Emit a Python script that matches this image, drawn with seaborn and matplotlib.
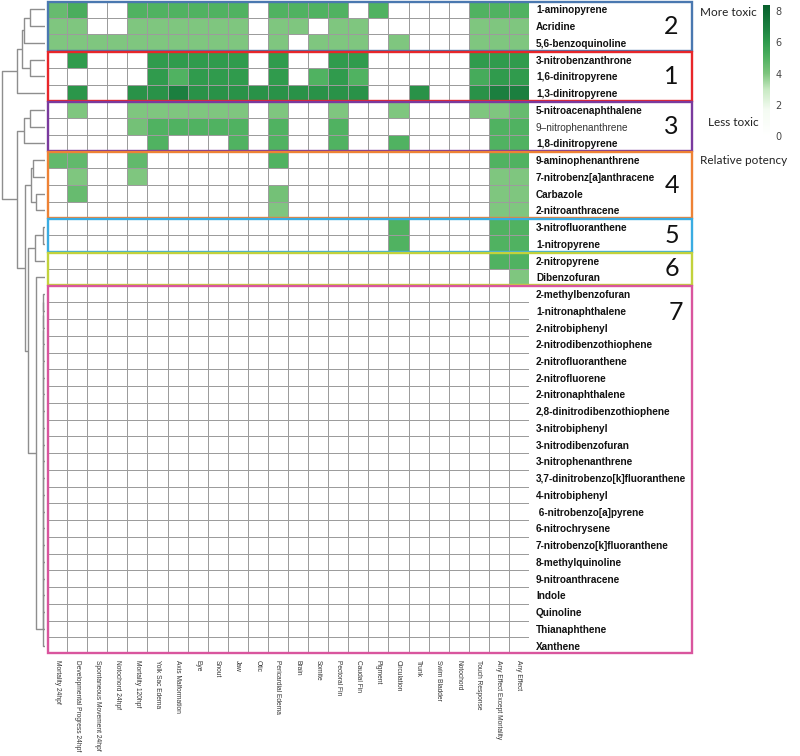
import numpy as np
import pandas as pd
import matplotlib
matplotlib.use('Agg')
import matplotlib.pyplot as plt
import seaborn as sns
from matplotlib.colors import LinearSegmentedColormap
from matplotlib.patches import Rectangle

# zebrafish endpoints (columns)
endpoints = ['Mortality 24hpf', 'Developmental Progress 24hpf', 'Spontaneous Movement 24hpf',
             'Notochord 24hpf', 'Mortality 120hpf', 'Yolk Sac Edema', 'Axis Malformation',
             'Eye', 'Snout', 'Jaw', 'Otic', 'Pericardial Edema', 'Brain', 'Somite',
             'Pectoral Fin', 'Caudal Fin', 'Pigment', 'Circulation', 'Trunk', 'Swim Bladder',
             'Notochord', 'Touch Response', 'Any Effect Except Mortality', 'Any Effect']

active = ['1-aminopyrene', 'Acridine', '5,6-benzoquinoline', '3-nitrobenzanthrone',
          '1,6-dinitropyrene', '1,3-dinitropyrene', '5-nitroacenaphthalene',
          '9\u2013nitrophenanthrene', '1,8-dinitropyrene', '9-aminophenanthrene',
          '7-nitrobenz[a]anthracene', 'Carbazole', '2-nitroanthracene',
          '3-nitrofluoranthene', '1-nitropyrene', '2-nitropyrene', 'Dibenzofuran']

inactive = ['2-methylbenzofuran', '1-nitronaphthalene', '2-nitrobiphenyl',
            '2-nitrodibenzothiophene', '2-nitrofluoranthene', '2-nitrofluorene',
            '2-nitronaphthalene', '2,8-dinitrodibenzothiophene', '3-nitrobiphenyl',
            '3-nitrodibenzofuran', '3-nitrophenanthrene', '3,7-dinitrobenzo[k]fluoranthene',
            '4-nitrobiphenyl', ' 6-nitrobenzo[a]pyrene', '6-nitrochrysene',
            '7-nitrobenzo[k]fluoranthene', '8-methylquinoline', '9-nitroanthracene',
            'Indole', 'Quinoline', 'Thianaphthene', 'Xanthene']

# relative potency (active compounds)
potency_active = [
    [4.5, 5.2, 0, 0, 5, 5, 5, 5, 5, 5, 0, 5, 5, 5, 5, 0, 5, 0, 0, 0, 0, 5, 5, 5],
    [4, 4, 0, 0, 4, 4, 4, 4, 4, 4, 0, 4, 4, 0, 4, 4, 0, 0, 0, 0, 0, 4, 4, 4],
    [4, 4, 4, 4, 4, 4, 4, 4, 4, 4, 0, 4, 0, 4, 4, 4, 0, 4, 0, 0, 0, 4, 4, 4],
    [0, 6, 0, 0, 0, 6, 6, 6, 6, 6, 0, 6, 0, 0, 6, 6, 0, 0, 0, 0, 0, 6, 6, 6],
    [0, 0, 0, 0, 0, 6, 5, 6, 6, 6, 0, 6, 0, 5, 6, 5, 0, 0, 0, 0, 0, 5.3, 6, 6],
    [0, 6.2, 0, 0, 6.3, 6.3, 7, 6.3, 6.3, 6.3, 6.3, 6.3, 6.3, 6.3, 6.3, 6.3, 0, 0, 6.3, 0, 0, 6.3, 7, 7],
    [0, 4, 0, 0, 4, 4, 4, 4, 4, 4, 0, 4, 0, 0, 4, 0, 0, 4, 0, 0, 0, 4, 4, 4.5],
    [0, 0, 0, 0, 4.2, 5, 5, 5, 5, 5, 0, 5, 0, 0, 5, 0, 0, 0, 0, 0, 0, 0, 5, 5],
    [0, 0, 0, 0, 0, 5, 0, 0, 0, 5, 0, 5, 0, 0, 5, 0, 0, 5, 0, 0, 0, 0, 5, 5],
    [4.6, 4.6, 0, 0, 4.6, 0, 0, 0, 0, 0, 0, 5, 0, 0, 0, 0, 0, 0, 0, 0, 0, 0, 5, 5],
    [0, 4, 0, 0, 4, 0, 0, 0, 0, 0, 0, 0, 0, 0, 0, 0, 0, 0, 0, 0, 0, 0, 4, 4],
    [0, 4.5, 0, 0, 0, 0, 0, 0, 0, 0, 0, 4.2, 0, 0, 0, 0, 0, 0, 0, 0, 0, 0, 4, 4],
    [0, 0, 0, 0, 0, 0, 0, 0, 0, 0, 0, 4, 0, 0, 0, 0, 0, 0, 0, 0, 0, 0, 4, 4],
    [0, 0, 0, 0, 0, 0, 0, 0, 0, 0, 0, 0, 0, 0, 0, 0, 0, 5, 0, 0, 0, 0, 5, 5],
    [0, 0, 0, 0, 0, 0, 0, 0, 0, 0, 0, 0, 0, 0, 0, 0, 0, 5, 0, 0, 0, 0, 5, 5],
    [0, 0, 0, 0, 0, 0, 0, 0, 0, 0, 0, 0, 0, 0, 0, 0, 0, 0, 0, 0, 0, 0, 5, 5],
    [0, 0, 0, 0, 0, 0, 0, 0, 0, 0, 0, 0, 0, 0, 0, 0, 0, 0, 0, 0, 0, 0, 0, 4],
]
potency_inactive = [[0] * len(endpoints) for _ in inactive]  # no effect at all

compounds = active + inactive

# clusters (boxes), top to bottom
group_names = ['2', '1', '3', '4', '5', '6', '7']
group_sizes = [3, 3, 3, 4, 2, 2, 22]
group_colors = ['#4a78b0', '#e8262a', '#7a3a9e', '#ee8235', '#3aace2', '#c2d23c', '#d9559e']

# dendrogram merges: (child a, child b, height); ids >= 39 are earlier merges
merges = [
    (0, 1, 15), (39, 2, 21), (3, 4, 15), (40, 41, 23), (42, 5, 28),
    (6, 7, 15), (44, 8, 21), (9, 10, 12), (11, 12, 9), (46, 47, 14),
    (13, 14, 2), (49, 15, 10),
    (17, 18, 2), (51, 19, 2), (52, 20, 2), (53, 21, 2), (54, 22, 2), (55, 23, 2),
    (56, 24, 2), (57, 25, 2), (58, 26, 2), (59, 27, 2), (60, 28, 2), (61, 29, 2),
    (62, 30, 2), (63, 31, 2), (64, 32, 2), (65, 33, 2), (66, 34, 2), (67, 35, 2),
    (68, 36, 2), (69, 37, 2), (70, 38, 2),
    (16, 71, 9), (50, 72, 17), (48, 73, 20), (45, 74, 28), (43, 75, 43),
]

df = pd.DataFrame(potency_active + potency_inactive, index=compounds, columns=endpoints)

cmap = LinearSegmentedColormap.from_list('tox', [
    (0.0, '#ffffff'), (0.2, '#f4fbf2'), (0.35, '#c9eac4'), (0.48, '#7cc47c'),
    (0.6, '#4fb160'), (0.72, '#2e9a4c'), (0.83, '#1c8040'), (1.0, '#08602c')])

W, H = 800, 756
fig = plt.figure(figsize=(8, 7.56), dpi=100)
ax = fig.add_axes([47 / W, 1 - 654 / H, 482 / W, 653 / H])
dax = fig.add_axes([0, 1 - 654 / H, 45 / W, 653 / H])
cax = fig.add_axes([763 / W, 1 - 136 / H, 7 / W, 131 / H])

sns.heatmap(df, ax=ax, cmap=cmap, vmin=0, vmax=8.4, linewidths=0.7, linecolor='#9c9c9c',
            cbar_ax=cax, xticklabels=True, yticklabels=True)

# row labels on the right
ax.yaxis.tick_right()
ax.tick_params(axis='y', length=0, pad=5)
for lab in ax.get_yticklabels():
    lab.set_rotation(0)
    lab.set_fontsize(7.2)
    lab.set_family('Liberation Sans')
    if '\u2013' in lab.get_text():
        lab.set_color('#333333')
    else:
        lab.set_fontweight('bold')
        lab.set_color('#111111')

ax.tick_params(axis='x', length=0, pad=4)
ax.set_xticklabels(endpoints, rotation=270, fontsize=4.8, ha='center', va='top',
                   color='#333333', family='Liberation Sans')
ax.set_xlabel('')
ax.set_ylabel('')

# cluster boxes and numbers
box_w = (691 - 47) / (482 / len(endpoints))
start = 0
for name, size, col in zip(group_names, group_sizes, group_colors):
    ax.add_patch(Rectangle((0.05, start + 0.03), box_w, size - 0.06, fill=False,
                           ec=col, lw=1.7, clip_on=False, zorder=5))
    ty = start + size / 2 if name != '7' else start + 1.6
    tx = 31.1 if name != '7' else 31.3
    ax.text(tx, ty, name, fontsize=18, family='Lato', ha='center', va='center',
            color='#111111', clip_on=False)
    start += size

# dendrogram
n = len(compounds)
pos = {i: i + 0.5 for i in range(n)}
hgt = {i: 0.0 for i in range(n)}
for k, (a, b, h) in enumerate(merges):
    dax.plot([hgt[a], h, h, hgt[b]], [pos[a], pos[a], pos[b], pos[b]],
             color='#8e8e8e', lw=1.0, solid_capstyle='butt')
    pos[n + k] = (pos[a] + pos[b]) / 2
    hgt[n + k] = h
dax.set_xlim(45, 0)
dax.set_ylim(n, 0)
dax.axis('off')

# colorbar
cbar = ax.collections[0].colorbar
cbar.set_ticks([0, 2, 4, 6, 8])
cbar.outline.set_visible(False)
cax.tick_params(length=0, labelsize=7, colors='#444444', pad=4)

fig.text(700 / W, 1 - 13 / H, 'More toxic', fontsize=8.5, family='Lato', va='center', color='#222222')
fig.text(708 / W, 1 - 123 / H, 'Less toxic', fontsize=8.5, family='Lato', va='center', color='#222222')
fig.text(700 / W, 1 - 160 / H, 'Relative potency', fontsize=8.5, family='Lato', va='center', color='#222222')

fig.savefig('out.png', dpi=100)
